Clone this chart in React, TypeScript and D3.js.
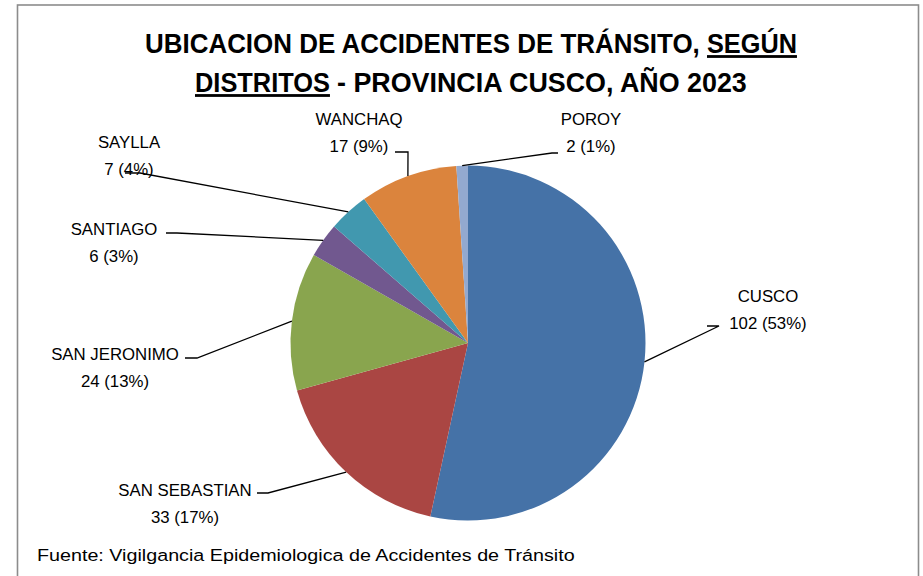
import React, { useLayoutEffect, useRef, useState } from "react";
import * as d3 from "d3";

const districts = ["CUSCO", "SAN SEBASTIAN", "SAN JERONIMO", "SANTIAGO", "SAYLLA", "WANCHAQ", "POROY"];
const accidents = [102, 33, 24, 6, 7, 17, 2];
const sliceColors = ["#4572A7", "#AA4643", "#89A54E", "#71588F", "#4198AF", "#DB843D", "#93A9CF"];

const source = "Fuente: Vigilgancia Epidemiologica de Accidentes de  Tránsito";

// title pieces: text, start x, baseline y, width, underlined
const titleParts = [
  { text: "UBICACION DE ACCIDENTES DE TRÁNSITO,", x: 145, y: 53, w: 555, u: false },
  { text: "SEGÚN", x: 707, y: 53, w: 90, u: true },
  { text: "DISTRITOS", x: 195, y: 92, w: 135, u: true },
  { text: "- PROVINCIA CUSCO, AÑO 2023", x: 337, y: 92, w: 410, u: false },
];

// label layout: text centre x, first baseline y, leader start (text side) and elbow
const labelLayout = [
  { x: 768, y: 302, start: [707, 326], elbow: [719, 326] },
  { x: 185, y: 496, start: [257, 493], elbow: [268, 493] },
  { x: 115, y: 360, start: [185, 358], elbow: [197, 358] },
  { x: 114, y: 235, start: [166, 233], elbow: [177, 233] },
  { x: 129, y: 148, start: [125, 173], elbow: [140, 173] },
  { x: 359, y: 125, start: [395, 152], elbow: [408, 152] },
  { x: 591, y: 125, start: [558, 153], elbow: [552, 153] },
];

const font = "'Liberation Sans', Arial, sans-serif";

// squeezes a text horizontally so it spans exactly w pixels
function FitText({ x, y, w, children, ...rest }: any) {
  const ref = useRef<SVGTextElement>(null);
  const [sx, setSx] = useState(1);
  useLayoutEffect(() => {
    if (ref.current) {
      const len = ref.current.getComputedTextLength();
      if (len > 0) setSx(w / len);
    }
  }, [w]);
  return (
    <text ref={ref} transform={`translate(${x},${y}) scale(${sx},1)`} {...rest}>
      {children}
    </text>
  );
}

function Chart() {
  const width = 923;
  const height = 576;
  const cx = 468;
  const cy = 343;
  const radius = 177.5;

  const total = d3.sum(accidents);
  const pie = d3
    .pie<number>()
    .sort(null)
    .value((d) => d);
  const arcs = pie(accidents);
  const arc = d3.arc<d3.PieArcDatum<number>>().innerRadius(0).outerRadius(radius);
  const edge = d3.arc<d3.PieArcDatum<number>>().innerRadius(radius).outerRadius(radius);

  return (
    <svg width={width} height={height} style={{ position: "absolute", left: 0, top: 0 }}>
      <rect x={0} y={0} width={width} height={height} fill="#fff" />
      <rect x={17.5} y={5} width={901} height={600} fill="#fff" stroke="#8c8c8c" strokeWidth={1.6} />

      {titleParts.map((t, i) => (
        <FitText
          key={i}
          x={t.x}
          y={t.y}
          w={t.w}
          fontFamily={font}
          fontWeight="bold"
          fontSize={28}
          textDecoration={t.u ? "underline" : undefined}
        >
          {t.text}
        </FitText>
      ))}

      <g transform={`translate(${cx},${cy})`}>
        {arcs.map((a, i) => (
          <path key={i} d={arc(a) ?? ""} fill={sliceColors[i]} />
        ))}
      </g>

      <g fontFamily={font} fontSize={16.8} fill="#000">
        {arcs.map((a, i) => {
          const lay = labelLayout[i];
          const [px, py] = edge.centroid(a);
          const pct = Math.round((accidents[i] / total) * 100);
          return (
            <g key={i}>
              <polyline
                points={`${lay.start[0]},${lay.start[1]} ${lay.elbow[0]},${lay.elbow[1]} ${cx + px},${cy + py}`}
                fill="none"
                stroke="#000"
                strokeWidth={1.3}
              />
              <text x={lay.x} y={lay.y} textAnchor="middle">
                {districts[i]}
              </text>
              <text x={lay.x} y={lay.y + 26.5} textAnchor="middle">
                {`${accidents[i]} (${pct}%)`}
              </text>
            </g>
          );
        })}
      </g>

      <FitText x={37} y={561} w={538} fontFamily={font} fontSize={16.5}>
        {source}
      </FitText>
    </svg>
  );
}

export default function App() {
  return <Chart />;
}
